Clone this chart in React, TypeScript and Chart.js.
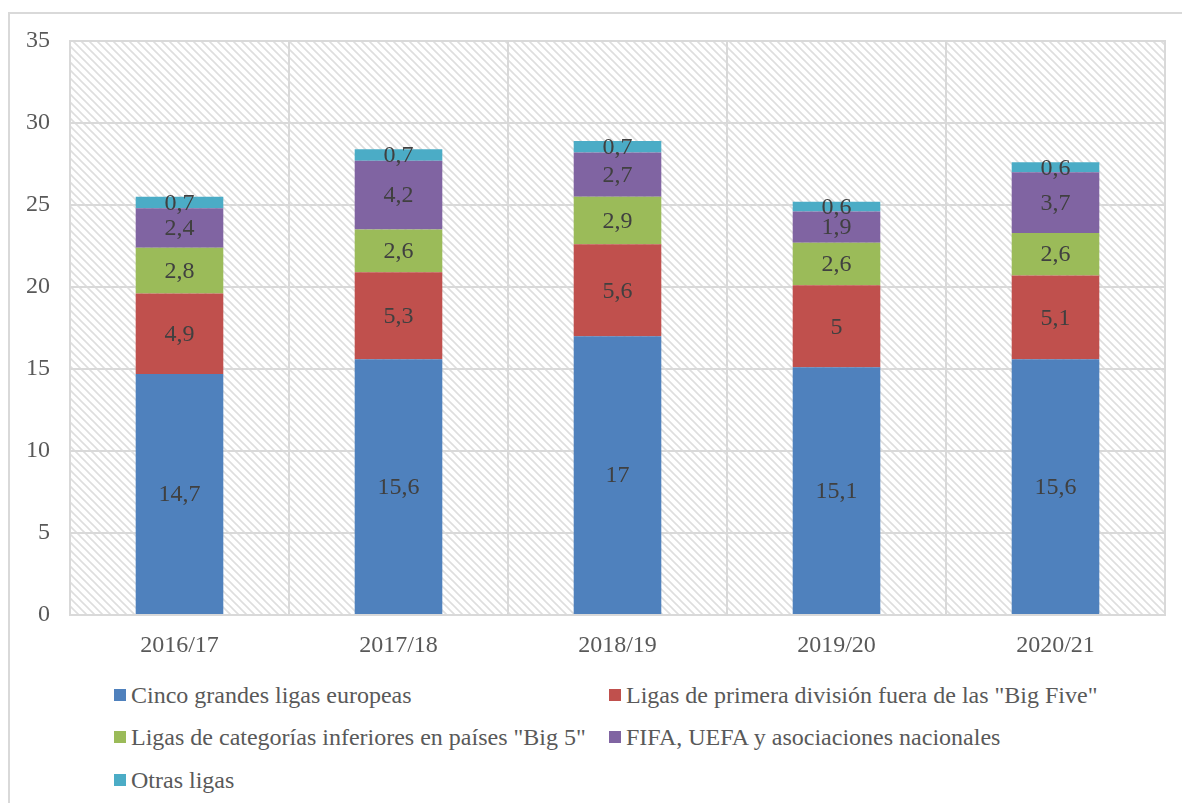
import React, { useEffect, useRef } from "react";
import { Chart, registerables } from "chart.js";

Chart.register(...registerables);

const categories = ["2016/17", "2017/18", "2018/19", "2019/20", "2020/21"];
const cincoGrandes = [14.7, 15.6, 17, 15.1, 15.6];
const primeraFuera = [4.9, 5.3, 5.6, 5, 5.1];
const inferiores = [2.8, 2.6, 2.9, 2.6, 2.6];
const fifaUefa = [2.4, 4.2, 2.7, 1.9, 3.7];
const otrasLigas = [0.7, 0.7, 0.7, 0.6, 0.6];
const yTicks = [0, 5, 10, 15, 20, 25, 30, 35];

const seriesNames = [
  "Cinco grandes ligas europeas",
  'Ligas de primera división fuera de las "Big Five"',
  'Ligas de categorías inferiores en países "Big 5"',
  "FIFA, UEFA y asociaciones nacionales",
  "Otras ligas",
];
const seriesColors = ["#4F81BD", "#C0504D", "#9BBB59", "#8064A2", "#4BACC6"];
const seriesData = [cincoGrandes, primeraFuera, inferiores, fifaUefa, otrasLigas];

const FONT = '"Liberation Serif", serif';

function makePattern(ctx: CanvasRenderingContext2D) {
  const c = document.createElement("canvas");
  c.width = 8;
  c.height = 8;
  const p = c.getContext("2d")!;
  p.fillStyle = "#ffffff";
  p.fillRect(0, 0, 8, 8);
  p.strokeStyle = "#dedede";
  p.lineWidth = 1.6;
  p.beginPath();
  p.moveTo(-2, -2);
  p.lineTo(10, 10);
  p.moveTo(-2, 6);
  p.lineTo(2, 10);
  p.moveTo(6, -2);
  p.lineTo(10, 2);
  p.stroke();
  return ctx.createPattern(c, "repeat");
}

const hatchPlugin = {
  id: "hatchBg",
  beforeDraw(chart: any) {
    const { ctx, chartArea } = chart;
    const pat = makePattern(ctx);
    if (!pat) return;
    ctx.save();
    ctx.fillStyle = pat;
    ctx.fillRect(chartArea.left, chartArea.top, chartArea.right - chartArea.left, chartArea.bottom - chartArea.top);
    ctx.restore();
  },
};

const labelPlugin = {
  id: "segLabels",
  afterDatasetsDraw(chart: any) {
    const { ctx } = chart;
    ctx.save();
    ctx.font = `24px ${FONT}`;
    ctx.fillStyle = "#404040";
    ctx.textAlign = "center";
    ctx.textBaseline = "middle";
    chart.data.datasets.forEach((ds: any, di: number) => {
      const meta = chart.getDatasetMeta(di);
      meta.data.forEach((el: any, i: number) => {
        const { x, y, base } = el.getProps(["x", "y", "base"], true);
        const v = ds.data[i];
        ctx.fillText(String(v).replace(".", ","), x, (y + base) / 2 + 1);
      });
    });
    ctx.restore();
  },
};

export default function App() {
  const ref = useRef<HTMLCanvasElement>(null);
  useEffect(() => {
    document.body.style.margin = "0";
    const chart = new Chart(ref.current!, {
      type: "bar",
      data: {
        labels: categories,
        datasets: seriesData.map((d, i) => ({
          label: seriesNames[i],
          data: d,
          backgroundColor: seriesColors[i],
          borderWidth: 0,
          barPercentage: 0.4,
          categoryPercentage: 1,
        })),
      },
      options: {
        animation: false,
        responsive: false,
        maintainAspectRatio: false,
        layout: { padding: { left: 0, right: 17, top: 41, bottom: 0 } },
        plugins: { legend: { display: false }, tooltip: { enabled: false } },
        scales: {
          x: {
            stacked: true,
            grid: { color: "#d9d9d9", lineWidth: 2, drawTicks: false, offset: true },
            border: { display: true, color: "#d9d9d9", width: 2 },
            ticks: { color: "#595959", font: { family: FONT, size: 24 }, padding: 16 },
            afterFit: (s: any) => {
              s.height = 55;
            },
          },
          y: {
            stacked: true,
            min: 0,
            max: 35,
            afterBuildTicks: (s: any) => {
              s.ticks = yTicks.map((v) => ({ value: v }));
            },
            grid: { color: "#d9d9d9", lineWidth: 2, drawTicks: false },
            border: { display: true, color: "#d9d9d9", width: 2 },
            ticks: { color: "#595959", font: { family: FONT, size: 24 }, padding: 20 },
            afterFit: (s: any) => {
              s.width = 70;
            },
          },
        },
      },
      plugins: [
        hatchPlugin,
        labelPlugin,
        {
          id: "frame",
          afterDraw(c: any) {
            const { ctx, chartArea } = c;
            ctx.save();
            ctx.strokeStyle = "#d9d9d9";
            ctx.lineWidth = 2;
            ctx.strokeRect(chartArea.left, chartArea.top, chartArea.right - chartArea.left, chartArea.bottom - chartArea.top);
            ctx.restore();
          },
        },
      ],
    });
    let alive = true;
    if ((document as any).fonts && (document as any).fonts.load) {
      (document as any).fonts
        .load(`24px ${FONT}`)
        .then(() => {
          if (alive) chart.update();
        })
        .catch(() => {});
    }
    return () => {
      alive = false;
      chart.destroy();
    };
  }, []);

  const legendPos = [
    { left: 114, top: 689 },
    { left: 609, top: 689 },
    { left: 114, top: 731 },
    { left: 609, top: 731 },
    { left: 114, top: 774 },
  ];

  return (
    <div style={{ position: "relative", width: 1182, height: 803, overflow: "hidden", background: "#fff" }}>
      <div
        style={{
          position: "absolute",
          left: 8,
          top: 12,
          width: 1300,
          height: 900,
          border: "2px solid #d9d9d9",
          boxSizing: "border-box",
        }}
      />
      <canvas ref={ref} width={1182} height={670} style={{ position: "absolute", left: 0, top: 0 }} />
      {seriesNames.map((n, i) => (
        <div
          key={n}
          style={{
            position: "absolute",
            left: legendPos[i].left,
            top: legendPos[i].top - 10,
            height: 32,
            display: "flex",
            alignItems: "center",
            whiteSpace: "nowrap",
            fontFamily: FONT,
            fontSize: 24,
            color: "#595959",
          }}
        >
          <span style={{ display: "inline-block", width: 12, height: 12, background: seriesColors[i], marginRight: 5 }} />
          <span>{n}</span>
        </div>
      ))}
    </div>
  );
}
